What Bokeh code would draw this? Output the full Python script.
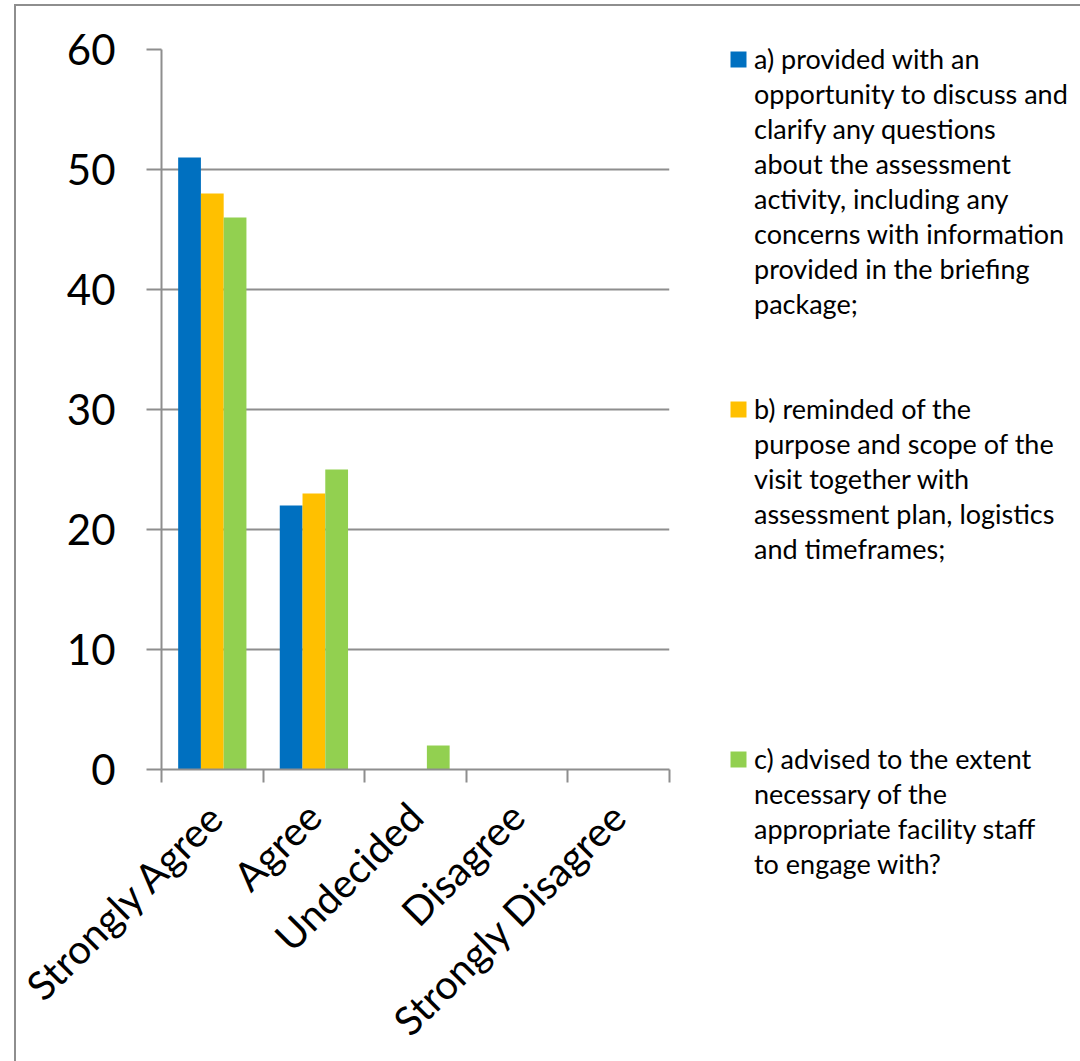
import numpy as np
from math import pi
from bokeh.plotting import figure
from bokeh.models import (ColumnDataSource, FixedTicker, Range1d, Legend, LegendItem)
from bokeh.core.properties import value
from bokeh.embed import file_html
from bokeh.resources import INLINE

categories = ["Strongly Agree", "Agree", "Undecided", "Disagree", "Strongly Disagree"]
series_a = [51, 22, 0, 0, 0]
series_b = [48, 23, 0, 0, 0]
series_c = [46, 25, 2, 0, 0]
series_label_lines = [
    ["a) provided with an", "opportunity to discuss and", "clarify any questions",
     "about the assessment", "activity, including any", "concerns with information",
     "provided in the briefing", "package;"],
    ["b) reminded of the", "purpose and scope of the", "visit together with",
     "assessment plan, logistics", "and timeframes;"],
    ["c) advised to the extent", "necessary of the", "appropriate facility staff",
     "to engage with?"],
]
colors = ["#0070C0", "#FFC000", "#92D050"]
y_ticks = [0, 10, 20, 30, 40, 50, 60]

FONT = "Lato"
GRAY = "#8e8e8e"
FL, FT = 145, 43
FRAME_W, FRAME_H = 508, 720
RIGHT, BOTTOM = 406, 292
ROWS_PER_ENTRY = 10      # legend entries are spaced ten text rows apart
ROW_H, ROW_GAP = 35, 0
LEG_FS = 27

p = figure(frame_width=FRAME_W, frame_height=FRAME_H, output_backend="svg", toolbar_location=None,
           x_range=Range1d(0, len(categories)), y_range=Range1d(0, 60),
           min_border_left=FL, min_border_right=RIGHT,
           min_border_top=FT, min_border_bottom=BOTTOM,
           background_fill_color="white", border_fill_color="white")
p.outline_line_color = None
p.margin = (6, 0, 0, 16)
p.styles = {"outline": "2px solid #8e8e8e"}

centers = np.arange(len(categories)) + 0.5
bw = 0.224
renderers = []
for i, (vals, color) in enumerate(zip([series_a, series_b, series_c], colors)):
    src = ColumnDataSource(dict(x=centers + (i - 1) * bw, top=vals))
    r = p.vbar(x="x", top="top", width=bw, bottom=0, source=src,
               fill_color=color, line_color=None)
    renderers.append(r)

# y axis
yax = p.yaxis[0]
yax.ticker = FixedTicker(ticks=y_ticks, minor_ticks=[])
yax.major_tick_out = 15
yax.major_tick_in = 0
yax.minor_tick_out = 0
yax.major_tick_line_color = GRAY
yax.major_tick_line_width = 2
yax.axis_line_color = GRAY
yax.axis_line_width = 2
yax.major_label_standoff = 31
yax.major_label_text_font = FONT
yax.major_label_text_font_size = "42px"
yax.major_label_text_color = "black"

# x axis: category labels at centres, tick marks between categories
xax = p.xaxis[0]
xax.ticker = FixedTicker(ticks=list(centers), minor_ticks=list(range(len(categories) + 1)))
xax.major_label_overrides = {float(c): name for c, name in zip(centers, categories)}
xax.major_tick_out = 0
xax.major_tick_in = 0
xax.minor_tick_out = 13
xax.minor_tick_in = 0
xax.minor_tick_line_color = GRAY
xax.minor_tick_line_width = 2
xax.axis_line_color = GRAY
xax.axis_line_width = 2
xax.major_label_orientation = pi / 4
xax.major_label_standoff = 27
xax.major_label_text_font = FONT
xax.major_label_text_font_size = "40px"
xax.major_label_text_color = "black"

p.xgrid.grid_line_color = None
p.ygrid.grid_line_color = GRAY
p.ygrid.grid_line_width = 2

# legend: one row per text line; the first row of each entry carries the swatch
items = []
for k, (lines, r) in enumerate(zip(series_label_lines, renderers)):
    for j, line in enumerate(lines):
        items.append(LegendItem(label=value(line), renderers=[r] if j == 0 else []))
    if k < len(series_label_lines) - 1:
        for _ in range(ROWS_PER_ENTRY - len(lines)):
            items.append(LegendItem(label=value(""), renderers=[]))

n_rows = len(items)
leg_h = n_rows * ROW_H + (n_rows - 1) * ROW_GAP
leg_top = 35   # canvas y of the legend's top edge
legend = Legend(items=items,
                location=(59, (FT + FRAME_H) - leg_top - leg_h),
                label_text_font=FONT, label_text_font_size=f"{LEG_FS}px",
                label_text_color="black", label_height=ROW_H,
                glyph_width=20, glyph_height=20, label_standoff=6,
                padding=0, margin=0, spacing=ROW_GAP,
                border_line_color=None, background_fill_alpha=0)
p.add_layout(legend, "right")

open("out.html", "w").write(file_html(p, INLINE))
